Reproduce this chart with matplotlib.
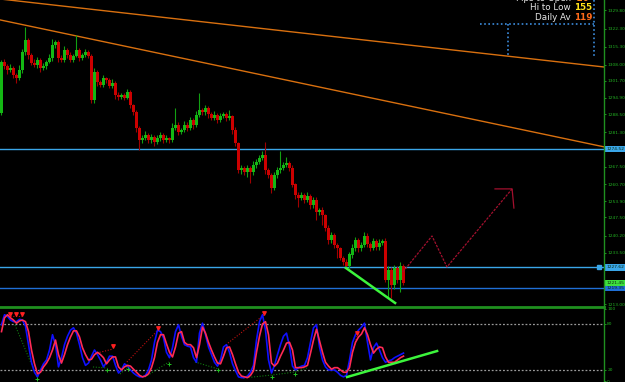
import matplotlib
matplotlib.use("Agg")
import matplotlib.pyplot as plt
import matplotlib.transforms as mtransforms
from matplotlib.lines import Line2D
import numpy as np

# price data (one candle per bar, oldest first)
first_open = 1288.9
closes = [
    1309.2, 1307.6, 1306.0, 1306.8, 1304.0, 1302.8, 1306.0, 1313.2, 1317.9, 1312.0,
    1308.8, 1308.0, 1310.0, 1306.8, 1307.6, 1309.2, 1310.8, 1315.9, 1317.1, 1310.8,
    1310.0, 1313.9, 1312.0, 1310.0, 1311.6, 1313.9, 1310.8, 1312.0, 1313.2, 1311.6,
    1294.1, 1305.2, 1301.2, 1300.1, 1302.8, 1302.0, 1299.7, 1300.8, 1296.1, 1295.3,
    1296.1, 1294.9, 1297.3, 1292.1, 1289.3, 1283.0, 1278.2, 1279.0, 1280.2, 1278.2,
    1279.4, 1277.4, 1279.0, 1280.2, 1278.2, 1279.0, 1278.2, 1283.0, 1284.2, 1281.4,
    1282.2, 1284.2, 1283.0, 1286.2, 1284.2, 1288.1, 1290.1, 1289.3, 1290.9, 1288.5,
    1287.0, 1288.1, 1286.2, 1287.7, 1288.5, 1287.0, 1287.4, 1282.2, 1277.0, 1266.3,
    1267.1, 1265.5, 1267.1, 1265.5, 1268.3, 1269.5, 1271.1, 1272.3, 1266.3, 1264.3,
    1259.2, 1264.3, 1266.3, 1267.1, 1268.3, 1269.1, 1267.1, 1260.4, 1256.4, 1255.2,
    1256.4, 1254.4, 1256.0, 1252.4, 1254.4, 1249.6, 1250.4, 1248.4, 1243.3, 1238.5,
    1240.5, 1236.5, 1235.3, 1231.4, 1229.8, 1228.2, 1232.6, 1235.3, 1238.5, 1235.3,
    1236.5, 1240.1, 1236.9, 1235.3, 1238.1, 1235.7, 1237.3, 1238.1, 1222.6, 1226.6,
    1220.7, 1227.4, 1222.6, 1228.2, 1221.5,
]
wick_hi = [
    0.8, 1.2, 0.6, 1.5, 0.8, 1.0, 2.0, 1.2, 5.2, 1.0,
    0.8, 1.5, 1.0, 0.6, 1.2, 0.8, 1.5, 2.5, 1.0, 0.8,
    1.2, 1.5, 0.8, 1.0, 0.6, 6.0, 1.0, 0.8, 1.2, 0.8,
    0.6, 1.5, 1.0, 0.8, 1.2, 0.6, 1.0, 1.5, 0.8, 1.0,
    0.6, 0.8, 1.2, 0.8, 0.6, 1.0, 0.8, 1.2, 1.5, 0.8,
    1.0, 0.6, 1.2, 1.0, 0.8, 1.2, 0.6, 2.0, 6.7, 1.0,
    0.8, 1.5, 1.0, 1.2, 0.8, 1.5, 6.8, 1.0, 1.2, 0.8,
    1.0, 1.5, 0.8, 1.2, 1.0, 0.8, 2.7, 0.8, 1.0, 0.6,
    1.2, 0.8, 1.0, 0.8, 1.5, 1.0, 1.2, 1.5, 5.1, 0.8,
    1.0, 1.2, 1.0, 6.7, 1.0, 2.4, 0.8, 1.0, 0.6, 1.0,
    1.2, 0.8, 1.5, 0.8, 1.2, 1.0, 0.8, 1.2, 0.6, 1.0,
    1.2, 0.8, 1.0, 0.6, 0.8, 1.0, 1.2, 1.5, 1.0, 0.8,
    1.2, 1.6, 1.0, 0.8, 1.2, 1.0, 1.5, 0.8, 1.2, 1.5,
    1.0, 1.2, 0.8, 1.5, 0.6,
]
wick_lo = [
    0.8, 1.0, 1.5, 0.8, 1.2, 2.0, 0.8, 1.0, 1.2, 1.5,
    1.0, 0.8, 1.2, 1.5, 0.8, 1.0, 0.6, 1.2, 1.0, 1.5,
    0.8, 1.0, 1.2, 0.8, 1.0, 0.6, 1.2, 1.0, 0.8, 1.0,
    1.2, 1.0, 1.5, 0.8, 1.0, 1.2, 0.8, 1.0, 1.5, 1.2,
    0.8, 1.0, 0.6, 1.2, 1.0, 1.5, 4.0, 1.0, 0.8, 1.2,
    1.0, 1.5, 0.8, 1.0, 1.2, 0.8, 1.0, 0.6, 1.0, 1.2,
    0.8, 1.0, 1.2, 0.8, 1.5, 1.0, 0.8, 1.2, 1.0, 1.5,
    1.0, 0.8, 1.2, 1.0, 0.8, 1.2, 1.0, 1.5, 1.0, 1.2,
    1.5, 1.0, 2.0, 4.4, 1.0, 1.2, 0.8, 1.0, 1.5, 1.0,
    2.0, 1.0, 1.2, 1.0, 0.8, 1.0, 1.2, 1.0, 1.5, 3.6,
    1.0, 1.2, 0.8, 1.5, 1.0, 3.1, 1.0, 3.9, 1.2, 1.5,
    1.0, 1.2, 3.9, 1.0, 1.2, 0.8, 1.0, 1.2, 1.0, 1.5,
    1.0, 0.8, 1.2, 1.0, 0.8, 1.2, 1.0, 0.8, 0.8, 6.7,
    5.2, 1.5, 1.0, 4.7, 1.0,
]

# stochastic oscillator (%K blue, %D red)
stoch_k = [
    79, 92, 90, 85, 83, 83, 86, 85, 77, 53,
    30, 17, 11, 20, 28, 33, 46, 66, 53, 24,
    36, 53, 64, 72, 75, 68, 53, 36, 26, 29,
    38, 46, 40, 33, 24, 30, 38, 38, 26, 16,
    20, 28, 25, 20, 16, 13, 11, 11, 13, 20,
    33, 56, 72, 70, 62, 43, 36, 49, 70, 79,
    64, 53, 51, 50, 36, 30, 68, 81, 66, 50,
    40, 30, 25, 33, 50, 53, 43, 28, 19, 11,
    10, 10, 12, 17, 26, 59, 83, 92, 72, 33,
    16, 26, 40, 53, 64, 68, 51, 25, 20, 23,
    25, 26, 36, 56, 75, 79, 50, 33, 24, 20,
    20, 20, 17, 13, 11, 13, 33, 56, 66, 72,
    76, 81, 56, 33, 49, 55, 46, 36, 30, 32,
    33, 36, 38, 40, 42,
]
stoch_d = [
    70, 88, 92, 88, 85, 81, 84, 85, 83, 70,
    46, 28, 15, 17, 24, 29, 36, 46, 59, 40,
    29, 40, 53, 63, 71, 71, 63, 49, 40, 33,
    34, 40, 43, 40, 36, 28, 33, 37, 37, 24,
    20, 24, 26, 25, 21, 17, 13, 11, 12, 15,
    23, 36, 56, 66, 66, 54, 43, 37, 50, 68,
    70, 56, 53, 53, 49, 36, 53, 76, 68, 56,
    46, 37, 29, 28, 38, 49, 50, 40, 28, 17,
    12, 11, 10, 13, 19, 43, 64, 80, 83, 66,
    29, 25, 29, 38, 46, 55, 56, 46, 23, 23,
    23, 24, 26, 42, 59, 73, 58, 43, 30, 25,
    21, 23, 23, 20, 17, 17, 23, 43, 56, 63,
    67, 75, 66, 53, 42, 47, 50, 49, 37, 30,
    30, 30, 33, 36, 38,
]

# horizontal levels and their price boxes
level_prices = [1274.52, 1227.62, 1219.35]
level_colors = ["#3aa6e8", "#3aa6e8", "#1f6fd6"]
bid_price = 1221.45

# price axis labels
price_ticks = ["1329.80", "1322.30", "1315.30", "1308.00", "1301.70", "1294.90",
               "1288.50", "1281.30", "1267.50", "1260.70", "1253.90", "1247.50",
               "1240.20", "1233.50", "1213.00"]

# drawn objects (bar index, price)
trend_upper = [(-0.5, 1334.2), (200.8, 1307.2)]
trend_lower = [(-0.5, 1325.9), (200.8, 1275.5)]
lime_main = [(114.8, 1227.4), (131.2, 1213.5)]
projection = [(133.8, 1225.8), (143.5, 1240.1), (148.5, 1227.8), (170.2, 1258.8)]
proj_head = [(164.5, 1258.8), (170.2, 1258.8), (170.8, 1251.2)]
lime_osc = [(115.2, 10.8), (145.2, 44.7)]

# oscillator signals
red_div = [[(2.8, 90.4), (6.8, 90.4)], [(31.8, 42.1), (37.2, 47.3)],
           [(41.8, 30.4), (52.2, 72.1)], [(75.5, 55.1), (87.5, 91.7)],
           [(115.2, 17.3), (118.5, 64.3)]]
green_div = [[(4.5, 78.6), (11.8, 10.8)], [(30.5, 23.9), (35.2, 22.6)],
             [(39.5, 14.7), (42.2, 23.9)], [(47.8, 10.8), (55.8, 30.4)],
             [(64.5, 30.4), (72.2, 21.3)],
             [(80.5, 9.5), (90.2, 13.4), (97.8, 17.3), (101.8, 22.6)]]
red_arrows = [(2.8, 90.4), (4.8, 90.4), (6.8, 90.4), (37.2, 48.6), (52.2, 72.1),
              (87.5, 91.7), (118.5, 65.6)]
green_marks = [(11.8, 10.8), (35.2, 22.6), (42.2, 23.9), (55.8, 30.4),
               (72.2, 21.3), (90.2, 13.4), (97.8, 17.3)]

scale_size = 3.2

W, H = 625, 382
fig = plt.figure(figsize=(W / 100, H / 100), dpi=100, facecolor="black")

axis_x = 604
ax = fig.add_axes([0, (H - 306) / H, axis_x / W, 306 / H])
osc = fig.add_axes([0, 0, axis_x / W, 74 / H])
for a in (ax, osc):
    a.set_facecolor("black")
    for s in a.spines.values():
        s.set_visible(False)
    a.set_xlim(-0.5, axis_x / 3 - 0.5)
    a.set_xticks([])

ax.set_ylim(1212.3, 1333.8)
osc.set_ylim(4.3, 100.8)

green_txt = "#22b022"

# candles
n = len(closes)
opens = [first_open] + closes[:-1]
xs = np.arange(n)
o = np.array(opens)
c = np.array(closes)
hi = np.maximum(o, c) + np.array(wick_hi)
lo = np.minimum(o, c) - np.array(wick_lo)
up = c >= o
body_col = np.where(up, "#14b814", "#cc0000")
wick_col = np.where(up, "#12a012", "#a00000")
ax.vlines(xs, lo, hi, colors=wick_col, linewidth=0.8, zorder=3)
ax.bar(xs, np.abs(c - o) + 0.15, bottom=np.minimum(o, c), width=0.7,
       color=body_col, linewidth=0, zorder=4)

# trend lines
for line in (trend_upper, trend_lower):
    ax.plot([p[0] for p in line], [p[1] for p in line], color="#d9700f",
            linewidth=1, zorder=2)

# horizontal levels
for p, col in zip(level_prices, level_colors):
    ax.axhline(p, color=col, linewidth=1, zorder=2)

ax.plot([p[0] for p in lime_main], [p[1] for p in lime_main], color="#3cf53c",
        linewidth=1.8, zorder=5)
ax.plot([p[0] for p in projection], [p[1] for p in projection], color="#a3102e",
        linewidth=0.9, linestyle=(0, (2, 1)), zorder=5)
ax.plot([p[0] for p in proj_head], [p[1] for p in proj_head], color="#a3102e",
        linewidth=0.9, zorder=5)
ax.plot([199.2], [level_prices[1]], marker="s", markersize=2.5, color="#3aa6e8",
        zorder=6, clip_on=False)

# right price scale
ax.yaxis.tick_right()
ax.set_yticks([float(t) for t in price_ticks])
ax.set_yticklabels(price_ticks)
ax.tick_params(axis="y", colors=green_txt, labelsize=scale_size, length=1.5,
               width=0.6, pad=0.8)

trans = mtransforms.blended_transform_factory(ax.transAxes, ax.transData)
for p, col in zip(level_prices, level_colors):
    ax.text(1.004, p, "%.2f" % p, transform=trans, fontsize=scale_size,
            color="#0a2a0a", va="center", ha="left", clip_on=False,
            bbox=dict(boxstyle="square,pad=0.25", fc=col, ec="none"))
ax.text(1.004, bid_price, "%.2f" % bid_price, transform=trans, fontsize=scale_size,
        color="#0a2a0a", va="center", ha="left", clip_on=False,
        bbox=dict(boxstyle="square,pad=0.25", fc="#3ee03e", ec="none"))

# oscillator
osc.axhline(80, color="#9a9a9a", linewidth=0.9, linestyle=(0, (1.5, 1.5)))
osc.axhline(20, color="#9a9a9a", linewidth=0.9, linestyle=(0, (1.5, 1.5)))
osc.plot(xs, stoch_k, color="#1010ff", linewidth=1.2, zorder=3)
osc.plot(xs, stoch_d, color="#ff2a55", linewidth=1.2, zorder=4)
for seg in red_div:
    osc.plot([p[0] for p in seg], [p[1] for p in seg], color="#c01010",
             linewidth=0.8, linestyle=(0, (1, 1.5)), zorder=2)
for seg in green_div:
    osc.plot([p[0] for p in seg], [p[1] for p in seg], color="#107a10",
             linewidth=0.8, linestyle=(0, (1, 1.5)), zorder=2)
osc.scatter([p[0] for p in red_arrows], [p[1] + 3 for p in red_arrows], marker="v",
            s=6, color="#ff2020", zorder=5)
osc.scatter([p[0] for p in green_marks], [p[1] - 2 for p in green_marks], marker="+",
            s=10, color="#20c020", linewidths=0.7, zorder=5)
osc.plot([p[0] for p in lime_osc], [p[1] for p in lime_osc], color="#3cf53c",
         linewidth=1.8, zorder=6)

osc.yaxis.tick_right()
osc.set_yticks([100, 80, 20, 5])
osc.set_yticklabels(["100", "80", "20", "0"])
osc.tick_params(axis="y", colors=green_txt, labelsize=scale_size, length=1.5,
                width=0.6, pad=0.8)

# separator between the windows and the scale line
fig.add_artist(Line2D([0, axis_x / W], [1 - 307 / H] * 2, color="#1f8f1f",
                      linewidth=2))
fig.add_artist(Line2D([axis_x / W] * 2, [0, 1], color="#1f8f1f", linewidth=1))

# info box top right
def fx(px):
    return px / W

def fy(py):
    return 1 - py / H

box = "#3c8cdc"
fig.add_artist(Line2D([fx(480), fx(594)], [fy(24)] * 2, color=box, linewidth=1.2,
                      linestyle=(0, (1, 1.5))))
fig.add_artist(Line2D([fx(508)] * 2, [fy(24), fy(57)], color=box, linewidth=1.2,
                      linestyle=(0, (1, 1.5))))
fig.add_artist(Line2D([fx(594)] * 2, [fy(0), fy(58)], color=box, linewidth=1.2,
                      linestyle=(0, (1, 1.5))))

info_labels = ["Pips to Open", "Hi to Low", "Daily Av"]
info_values = ["-20", "155", "119"]
info_colors = ["#ff8c1a", "#ffe21a", "#ff6a1a"]
for k, (lab, val, col) in enumerate(zip(info_labels, info_values, info_colors)):
    y = fy(-1 + 9 * k)
    fig.text(fx(571), y, lab, color="#e6e6e6", fontsize=6.3, ha="right", va="center")
    fig.text(fx(574), y, val, color=col, fontsize=6.3, ha="left", va="center",
             fontweight="bold")

fig.savefig("out.png", dpi=100, facecolor="black")
